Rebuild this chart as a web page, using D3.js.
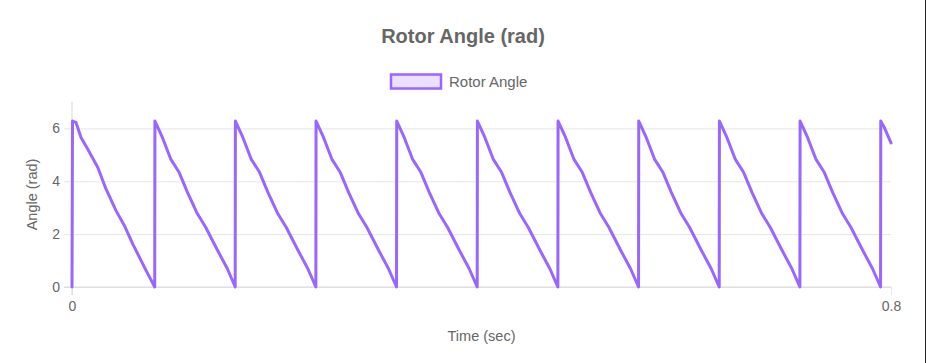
<!DOCTYPE html>
<html>
<head>
<meta charset="utf-8">
<script src="https://cdn.jsdelivr.net/npm/d3@7"></script>
<style>
  html, body { margin: 0; padding: 0; background: #fff; }
  svg { display: block; font-family: "Liberation Sans", Arial, Helvetica, sans-serif; }
</style>
</head>
<body>
<svg id="chart" width="926" height="363"></svg>
<script>
const chartTitle = "Rotor Angle (rad)";
const seriesName = "Rotor Angle";
const xTitle = "Time (sec)";
const yTitle = "Angle (rad)";
const xTicks = [0, 0.8];
const xTickLabels = ["0", "0.8"];
const yTicks = [0, 2, 4, 6];

const timeSec = [
  0, 0.0005, 0.0039, 0.0088, 0.0153, 0.0251, 0.0332, 0.0430, 0.0511, 0.0593, 0.0723, 0.0808,
  0.0810, 0.0883, 0.0964, 0.1046, 0.1128, 0.1225, 0.1306, 0.1420, 0.1518, 0.1594,
  0.1596, 0.1669, 0.1750, 0.1832, 0.1914, 0.2011, 0.2092, 0.2206, 0.2304, 0.2382,
  0.2384, 0.2457, 0.2538, 0.2620, 0.2702, 0.2799, 0.2880, 0.2994, 0.3092, 0.3170,
  0.3172, 0.3245, 0.3326, 0.3408, 0.3490, 0.3587, 0.3668, 0.3782, 0.3880, 0.3958,
  0.3960, 0.4033, 0.4114, 0.4196, 0.4278, 0.4375, 0.4456, 0.4570, 0.4668, 0.4746,
  0.4748, 0.4821, 0.4902, 0.4984, 0.5066, 0.5163, 0.5244, 0.5358, 0.5456, 0.5534,
  0.5536, 0.5609, 0.5690, 0.5772, 0.5854, 0.5951, 0.6032, 0.6146, 0.6244, 0.6322,
  0.6324, 0.6397, 0.6478, 0.6560, 0.6642, 0.6739, 0.6820, 0.6934, 0.7032, 0.7110,
  0.7112, 0.7185, 0.7266, 0.7348, 0.7430, 0.7527, 0.7608, 0.7722, 0.7820, 0.7898,
  0.7900, 0.7933, 0.8000
];
const angleRad = [
  0, 6.28, 6.23, 5.66, 5.22, 4.53, 3.71, 2.89, 2.33, 1.63, 0.63, 0.00,
  6.28, 5.66, 4.84, 4.34, 3.58, 2.77, 2.26, 1.40, 0.69, 0.00,
  6.28, 5.66, 4.84, 4.34, 3.58, 2.77, 2.26, 1.40, 0.69, 0.00,
  6.28, 5.66, 4.84, 4.34, 3.58, 2.77, 2.26, 1.40, 0.69, 0.00,
  6.28, 5.66, 4.84, 4.34, 3.58, 2.77, 2.26, 1.40, 0.69, 0.00,
  6.28, 5.66, 4.84, 4.34, 3.58, 2.77, 2.26, 1.40, 0.69, 0.00,
  6.28, 5.66, 4.84, 4.34, 3.58, 2.77, 2.26, 1.40, 0.69, 0.00,
  6.28, 5.66, 4.84, 4.34, 3.58, 2.77, 2.26, 1.40, 0.69, 0.00,
  6.28, 5.66, 4.84, 4.34, 3.58, 2.77, 2.26, 1.40, 0.69, 0.00,
  6.28, 5.66, 4.84, 4.34, 3.58, 2.77, 2.26, 1.40, 0.69, 0.00,
  6.28, 6.05, 5.45
];

const W = 926, H = 363;
const plot = { left: 72, right: 891, top: 102, bottom: 287 };
const lineColor = "#9966ff";
const textColor = "#666666";
const gridColor = "#e6e6e6";

const svg = d3.select("#chart");
svg.append("rect").attr("width", W).attr("height", H).attr("fill", "#fff");

const x = d3.scaleLinear().domain([0, 0.8]).range([plot.left, plot.right]);
const y = d3.scaleLinear().domain([0, 7]).range([plot.bottom, plot.top]);

// Title
svg.append("text").attr("x", 463).attr("y", 43).attr("text-anchor", "middle")
  .attr("font-size", 20).attr("font-weight", "bold").attr("fill", textColor).text(chartTitle);

// Legend
svg.append("rect").attr("x", 391).attr("y", 74.5).attr("width", 50).attr("height", 14)
  .attr("fill", "rgba(153,102,255,0.2)").attr("stroke", lineColor).attr("stroke-width", 2.5);
svg.append("text").attr("x", 449).attr("y", 86.5).attr("font-size", 15)
  .attr("fill", textColor).text(seriesName);

// Y grid + axis
const yAxis = d3.axisLeft(y).tickValues(yTicks).tickFormat(d3.format("d"))
  .tickSize(-(plot.right - plot.left)).tickPadding(12);
const gy = svg.append("g").attr("transform", `translate(${plot.left},0)`).call(yAxis);
gy.select(".domain").remove();
gy.selectAll(".tick line").attr("stroke", gridColor).attr("x1", -8);
gy.selectAll(".tick text").attr("fill", textColor).attr("font-size", 14)
  .attr("font-family", "Liberation Sans, Arial, sans-serif");

// X grid + axis
const xAxis = d3.axisBottom(x).tickValues(xTicks).tickFormat((d, i) => xTickLabels[i])
  .tickSize(-(plot.bottom - plot.top)).tickPadding(14);
const gx = svg.append("g").attr("transform", `translate(0,${plot.bottom})`).call(xAxis);
gx.select(".domain").remove();
gx.selectAll(".tick line").attr("stroke", gridColor).attr("y2", 8);
gx.selectAll(".tick text").attr("fill", textColor).attr("font-size", 14)
  .attr("font-family", "Liberation Sans, Arial, sans-serif");

// Axis lines
svg.append("line").attr("x1", plot.left).attr("x2", plot.left)
  .attr("y1", plot.top).attr("y2", plot.bottom + 8).attr("stroke", "#d9d9d9");
svg.append("line").attr("x1", plot.left - 8).attr("x2", plot.right)
  .attr("y1", plot.bottom).attr("y2", plot.bottom).attr("stroke", "#d9d9d9");

// Axis titles
svg.append("text").attr("x", (plot.left + plot.right) / 2).attr("y", 341)
  .attr("text-anchor", "middle").attr("font-size", 14.5).attr("fill", textColor).text(xTitle);
svg.append("text").attr("transform", `translate(37,${(plot.top + plot.bottom) / 2}) rotate(-90)`)
  .attr("text-anchor", "middle").attr("font-size", 14.5).attr("fill", textColor).text(yTitle);

// Line
const pts = timeSec.map((t, i) => [t, angleRad[i]]);
svg.append("path").datum(pts)
  .attr("fill", "none").attr("stroke", lineColor).attr("stroke-width", 3)
  .attr("stroke-linejoin", "round").attr("stroke-linecap", "round")
  .attr("d", d3.line().x(d => x(d[0])).y(d => y(d[1])));

// right frame edge
svg.append("line").attr("x1", 925.5).attr("x2", 925.5).attr("y1", 0).attr("y2", H)
  .attr("stroke", "#222").attr("stroke-width", 1);
</script>
</body>
</html>
